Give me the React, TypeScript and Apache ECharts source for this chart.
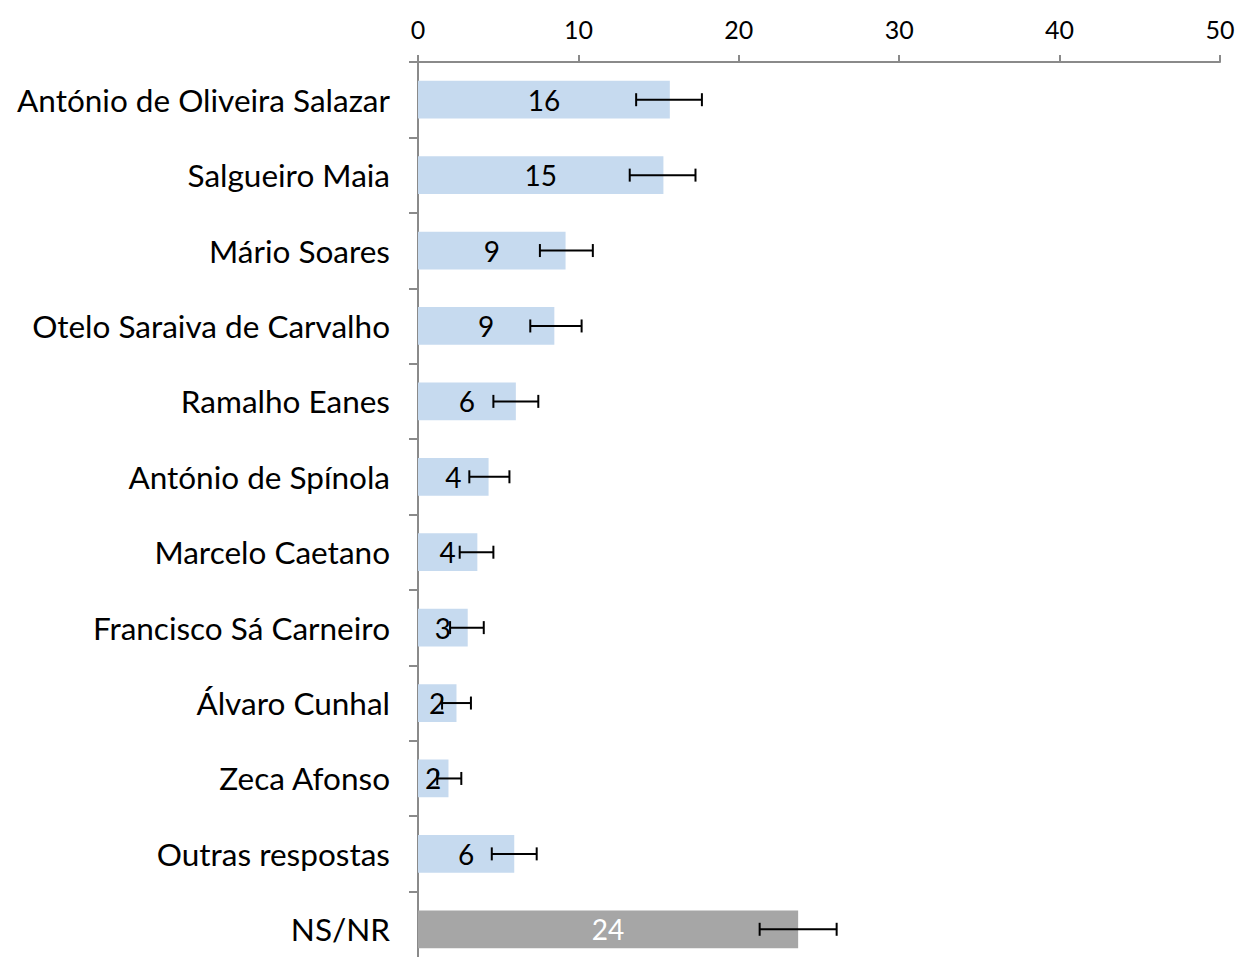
import React, { useEffect, useRef } from "react";
import * as echarts from "echarts";

const categories = [
  "António de Oliveira Salazar",
  "Salgueiro Maia",
  "Mário Soares",
  "Otelo Saraiva de Carvalho",
  "Ramalho Eanes",
  "António de Spínola",
  "Marcelo Caetano",
  "Francisco Sá Carneiro",
  "Álvaro Cunhal",
  "Zeca Afonso",
  "Outras respostas",
  "NS/NR",
];
const values = [15.7, 15.3, 9.2, 8.5, 6.1, 4.4, 3.7, 3.1, 2.4, 1.9, 6.0, 23.7];
const errLow = [13.6, 13.2, 7.6, 7.0, 4.7, 3.2, 2.6, 2.0, 1.5, 1.2, 4.6, 21.3];
const errHigh = [17.7, 17.3, 10.9, 10.2, 7.5, 5.7, 4.7, 4.1, 3.3, 2.7, 7.4, 26.1];
const xTicks = { min: 0, max: 50, interval: 10 };

const BLUE = "#c6daef";
const GRAY = "#a6a6a6";
const AXIS = "#8a8a8a";
const FONT = "Lato";

export default function App() {
  const ref = useRef<HTMLDivElement>(null);
  useEffect(() => {
    if (!ref.current) return;
    const chart = echarts.init(ref.current, null, { renderer: "svg" });
    const barData = values.map((v, i) => {
      const last = i === values.length - 1;
      return {
        value: v,
        itemStyle: { color: last ? GRAY : BLUE },
        label: { color: last ? "#ffffff" : "#000000" },
      };
    });
    const errData = values.map((_, i) => [errLow[i], errHigh[i], i]);
    chart.setOption({
      animation: false,
      grid: { left: 418, right: 19, top: 62, bottom: 13, containLabel: false },
      xAxis: {
        type: "value",
        position: "top",
        min: xTicks.min,
        max: xTicks.max,
        interval: xTicks.interval,
        axisLine: { show: true, lineStyle: { color: AXIS, width: 2 } },
        axisTick: { show: true, length: 7, lineStyle: { color: AXIS, width: 2 } },
        splitLine: { show: false },
        axisLabel: { fontFamily: FONT, fontSize: 25, color: "#000", margin: 21 },
      },
      yAxis: {
        type: "category",
        data: categories,
        inverse: true,
        axisLine: { show: true, lineStyle: { color: AXIS, width: 2 } },
        axisTick: { show: true, length: 9, lineStyle: { color: AXIS, width: 2 } },
        axisLabel: { fontFamily: FONT, fontSize: 31.5, color: "#000", margin: 28, padding: [0, 0, 3, 0] },
      },
      series: [
        {
          type: "bar",
          data: barData,
          barWidth: "50%",
          label: {
            show: true,
            position: "inside",
            fontFamily: FONT,
            fontSize: 28,
            formatter: (p: any) => String(Math.round(p.value)),
          },
        },
        {
          type: "custom",
          data: errData,
          encode: { x: [0, 1], y: 2 },
          z: 10,
          renderItem: (params: any, api: any) => {
            const lo = api.coord([api.value(0), api.value(2)]);
            const hi = api.coord([api.value(1), api.value(2)]);
            const h = 6.5;
            const style = { stroke: "#000", lineWidth: 2 };
            return {
              type: "group",
              children: [
                { type: "line", shape: { x1: lo[0], y1: lo[1], x2: hi[0], y2: hi[1] }, style },
                { type: "line", shape: { x1: lo[0], y1: lo[1] - h, x2: lo[0], y2: lo[1] + h }, style },
                { type: "line", shape: { x1: hi[0], y1: hi[1] - h, x2: hi[0], y2: hi[1] + h }, style },
              ],
            };
          },
        },
      ],
    });
    return () => chart.dispose();
  }, []);
  return (
    <div
      style={{
        position: "fixed",
        top: 0,
        left: 0,
        width: 1239,
        height: 957,
        overflow: "hidden",
        background: "#fff",
      }}
    >
      <div ref={ref} style={{ width: 1239, height: 980 }} />
    </div>
  );
}
